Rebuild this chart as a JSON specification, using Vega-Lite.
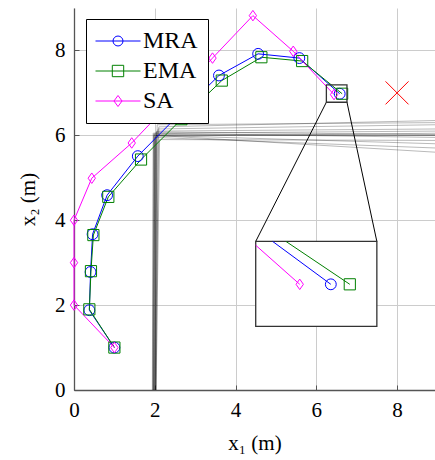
{
  "$schema": "https://vega.github.io/schema/vega-lite/v6.json",
  "width": 361,
  "height": 382,
  "autosize": {"type": "none"},
  "padding": {"left": 74, "top": 8, "right": 0, "bottom": 70},
  "background": "white",
  "config": {
    "view": {"stroke": null},
    "font": "Liberation Serif, Times New Roman, serif",
    "axis": {
      "labelFont": "Liberation Serif, Times New Roman, serif",
      "labelFontSize": 21,
      "labelColor": "black",
      "titleFont": "Liberation Serif, Times New Roman, serif",
      "titleFontSize": 21,
      "titleFontWeight": "normal",
      "titleColor": "black",
      "gridColor": "#cccccc",
      "gridWidth": 1,
      "domainColor": "#555555",
      "domainWidth": 1.3,
      "tickColor": "#555555",
      "tickWidth": 1,
      "tickSize": -5
    },
    "legend": {
      "labelFont": "Liberation Serif, Times New Roman, serif",
      "labelFontSize": 24,
      "labelColor": "black"
    }
  },
  "datasets": {
    "traj": [
      {"s": "MRA", "i": 0, "x": 1.0, "y": 1.0},
      {"s": "MRA", "i": 1, "x": 0.38, "y": 1.88},
      {"s": "MRA", "i": 2, "x": 0.41, "y": 2.78},
      {"s": "MRA", "i": 3, "x": 0.46, "y": 3.67},
      {"s": "MRA", "i": 4, "x": 0.82, "y": 4.59},
      {"s": "MRA", "i": 5, "x": 1.58, "y": 5.51},
      {"s": "MRA", "i": 6, "x": 2.58, "y": 6.47},
      {"s": "MRA", "i": 7, "x": 3.59, "y": 7.41},
      {"s": "MRA", "i": 8, "x": 4.56, "y": 7.92},
      {"s": "MRA", "i": 9, "x": 5.58, "y": 7.82},
      {"s": "MRA", "i": 10, "x": 6.58, "y": 6.98},
      {"s": "EMA", "i": 0, "x": 1.0, "y": 1.0},
      {"s": "EMA", "i": 1, "x": 0.38, "y": 1.9},
      {"s": "EMA", "i": 2, "x": 0.42, "y": 2.8},
      {"s": "EMA", "i": 3, "x": 0.48, "y": 3.65},
      {"s": "EMA", "i": 4, "x": 0.85, "y": 4.55},
      {"s": "EMA", "i": 5, "x": 1.66, "y": 5.43},
      {"s": "EMA", "i": 6, "x": 2.66, "y": 6.38},
      {"s": "EMA", "i": 7, "x": 3.66, "y": 7.29},
      {"s": "EMA", "i": 8, "x": 4.64, "y": 7.84},
      {"s": "EMA", "i": 9, "x": 5.65, "y": 7.75},
      {"s": "EMA", "i": 10, "x": 6.64, "y": 6.98},
      {"s": "SA", "i": 0, "x": 1.0, "y": 1.0},
      {"s": "SA", "i": 1, "x": 0.0, "y": 2.0},
      {"s": "SA", "i": 2, "x": 0.0, "y": 3.0},
      {"s": "SA", "i": 3, "x": 0.0, "y": 4.0},
      {"s": "SA", "i": 4, "x": 0.44, "y": 4.99},
      {"s": "SA", "i": 5, "x": 1.43, "y": 5.82},
      {"s": "SA", "i": 6, "x": 2.43, "y": 6.82},
      {"s": "SA", "i": 7, "x": 3.43, "y": 7.82},
      {"s": "SA", "i": 8, "x": 4.43, "y": 8.82},
      {"s": "SA", "i": 9, "x": 5.43, "y": 7.98},
      {"s": "SA", "i": 10, "x": 6.44, "y": 6.96}
    ],
    "zoomed": [
      {"s": "MRA", "i": 0, "x": 4.92, "y": 3.5, "end": false},
      {"s": "MRA", "i": 1, "x": 6.36, "y": 2.49, "end": true},
      {"s": "EMA", "i": 0, "x": 5.25, "y": 3.5, "end": false},
      {"s": "EMA", "i": 1, "x": 6.83, "y": 2.49, "end": true},
      {"s": "SA", "i": 0, "x": 4.5, "y": 3.41, "end": false},
      {"s": "SA", "i": 1, "x": 5.59, "y": 2.49, "end": true}
    ],
    "gray": [
      {"id": 1, "i": 0, "x": 1.95, "y": 0}, {"id": 1, "i": 1, "x": 1.97, "y": 6.02}, {"id": 1, "i": 2, "x": 9, "y": 6.0},
      {"id": 2, "i": 0, "x": 1.97, "y": 0}, {"id": 2, "i": 1, "x": 2.0, "y": 6.05}, {"id": 2, "i": 2, "x": 9, "y": 5.95},
      {"id": 3, "i": 0, "x": 2.0, "y": 0}, {"id": 3, "i": 1, "x": 2.02, "y": 5.98}, {"id": 3, "i": 2, "x": 9, "y": 6.05},
      {"id": 4, "i": 0, "x": 2.02, "y": 0}, {"id": 4, "i": 1, "x": 2.05, "y": 6.1}, {"id": 4, "i": 2, "x": 9, "y": 6.15},
      {"id": 5, "i": 0, "x": 1.96, "y": 0}, {"id": 5, "i": 1, "x": 1.98, "y": 6.0}, {"id": 5, "i": 2, "x": 9, "y": 5.8},
      {"id": 6, "i": 0, "x": 2.04, "y": 0}, {"id": 6, "i": 1, "x": 2.08, "y": 6.15}, {"id": 6, "i": 2, "x": 9, "y": 6.25},
      {"id": 7, "i": 0, "x": 1.98, "y": 0}, {"id": 7, "i": 1, "x": 2.0, "y": 5.95}, {"id": 7, "i": 2, "x": 9, "y": 5.7},
      {"id": 8, "i": 0, "x": 2.01, "y": 0}, {"id": 8, "i": 1, "x": 2.1, "y": 6.2}, {"id": 8, "i": 2, "x": 9, "y": 6.35},
      {"id": 9, "i": 0, "x": 1.99, "y": 0}, {"id": 9, "i": 1, "x": 2.03, "y": 6.0}, {"id": 9, "i": 2, "x": 9, "y": 6.0},
      {"id": 10, "i": 0, "x": 2.03, "y": 0}, {"id": 10, "i": 1, "x": 2.12, "y": 5.9}, {"id": 10, "i": 2, "x": 9, "y": 5.88},
      {"id": 11, "i": 0, "x": 1.94, "y": 0}, {"id": 11, "i": 1, "x": 1.96, "y": 6.05}, {"id": 11, "i": 2, "x": 9, "y": 6.1},
      {"id": 12, "i": 0, "x": 2.0, "y": 0}, {"id": 12, "i": 1, "x": 2.06, "y": 6.25}, {"id": 12, "i": 2, "x": 9, "y": 6.3},
      {"id": 13, "i": 0, "x": 1.97, "y": 0}, {"id": 13, "i": 1, "x": 2.0, "y": 6.0}, {"id": 13, "i": 2, "x": 9, "y": 5.6},
      {"id": 14, "i": 0, "x": 2.02, "y": 0}, {"id": 14, "i": 1, "x": 2.04, "y": 6.08}, {"id": 14, "i": 2, "x": 9, "y": 6.02}
    ],
    "boxes": [
      {"kind": "big", "x": 4.5, "x2": 7.5, "y": 1.5, "y2": 3.5},
      {"kind": "small", "x": 6.25, "x2": 6.76, "y": 6.78, "y2": 7.19}
    ],
    "conn": [
      {"id": 1, "i": 0, "x": 6.25, "y": 6.78}, {"id": 1, "i": 1, "x": 4.5, "y": 3.5},
      {"id": 2, "i": 0, "x": 6.76, "y": 6.78}, {"id": 2, "i": 1, "x": 7.5, "y": 3.5}
    ],
    "target": [{"x": 8, "y": 7}]
  },
  "layer": [
    {
      "data": {"name": "gray"},
      "mark": {"type": "line", "color": "black", "strokeWidth": 0.8, "opacity": 0.35, "clip": true},
      "encoding": {
        "x": {"field": "x", "type": "quantitative", "scale": {"domain": [0, 8.94], "nice": false, "zero": false},
          "axis": {"values": [0, 2, 4, 6, 8], "title": "x₁ (m)", "labelPadding": 14, "titlePadding": 12, "grid": true, "labelFlush": false}},
        "y": {"field": "y", "type": "quantitative", "scale": {"domain": [0, 9], "nice": false, "zero": false},
          "axis": {"values": [0, 2, 4, 6, 8], "title": "x₂ (m)", "labelPadding": 14, "titlePadding": 16, "grid": true, "labelFlush": false}},
        "detail": {"field": "id", "type": "nominal"},
        "order": {"field": "i", "type": "quantitative"}
      }
    },
    {
      "data": {"name": "traj"},
      "mark": {"type": "line", "strokeWidth": 1},
      "encoding": {
        "x": {"field": "x", "type": "quantitative"},
        "y": {"field": "y", "type": "quantitative"},
        "color": {"field": "s", "type": "nominal",
          "scale": {"domain": ["MRA", "EMA", "SA"], "range": ["#0000ff", "#008000", "#ff00ff"]},
          "legend": {
            "orient": "none", "legendX": 12, "legendY": 11, "title": null,
            "symbolSize": 144, "symbolStrokeWidth": 1,
            "symbolOffset": 10, "labelOffset": 13,
            "padding": 10, "rowPadding": 6,
            "strokeColor": "black", "fillColor": "white",
            "encode": {"symbols": {"update": {
              "shape": {"signal": "datum.value === 'MRA' ? 'M-3.75,0L3.75,0M-0.83,0A0.83,0.83,0,1,1,0.83,0A0.83,0.83,0,1,1,-0.83,0' : datum.value === 'EMA' ? 'M-3.75,0L3.75,0M-0.95,-0.95L0.95,-0.95L0.95,0.95L-0.95,0.95Z' : 'M-3.75,0L3.75,0M0,-0.92L0.67,0L0,0.92L-0.67,0Z'"},
              "size": {"value": 144},
              "fill": {"value": "transparent"},
              "strokeWidth": {"value": 1}
            }}}
          }},
        "order": {"field": "i", "type": "quantitative"}
      }
    },
    {
      "data": {"name": "traj"},
      "mark": {"type": "point", "filled": false, "strokeWidth": 1, "opacity": 1},
      "encoding": {
        "x": {"field": "x", "type": "quantitative"},
        "y": {"field": "y", "type": "quantitative"},
        "color": {"field": "s", "type": "nominal", "legend": null},
        "shape": {"field": "s", "type": "nominal", "legend": null,
          "scale": {"range": ["square", "circle", "M0,-1L0.7,0L0,1L-0.7,0Z"]}},
        "size": {"field": "s", "type": "nominal", "legend": null,
          "scale": {"range": [125, 110, 125]}}
      }
    },
    {
      "data": {"name": "conn"},
      "mark": {"type": "line", "color": "black", "strokeWidth": 1},
      "encoding": {
        "x": {"field": "x", "type": "quantitative"},
        "y": {"field": "y", "type": "quantitative"},
        "detail": {"field": "id", "type": "nominal"},
        "order": {"field": "i", "type": "quantitative"}
      }
    },
    {
      "data": {"name": "boxes"},
      "transform": [{"filter": "datum.kind === 'big'"}],
      "mark": {"type": "rect", "fill": "white", "stroke": "#333333", "strokeWidth": 1.3},
      "encoding": {
        "x": {"field": "x", "type": "quantitative"},
        "x2": {"field": "x2"},
        "y": {"field": "y", "type": "quantitative"},
        "y2": {"field": "y2"}
      }
    },
    {
      "data": {"name": "boxes"},
      "transform": [{"filter": "datum.kind === 'small'"}],
      "mark": {"type": "rect", "fill": null, "fillOpacity": 0, "stroke": "#333333", "strokeWidth": 1.3},
      "encoding": {
        "x": {"field": "x", "type": "quantitative"},
        "x2": {"field": "x2"},
        "y": {"field": "y", "type": "quantitative"},
        "y2": {"field": "y2"}
      }
    },
    {
      "data": {"name": "zoomed"},
      "mark": {"type": "line", "strokeWidth": 1},
      "encoding": {
        "x": {"field": "x", "type": "quantitative"},
        "y": {"field": "y", "type": "quantitative"},
        "color": {"field": "s", "type": "nominal", "legend": null},
        "order": {"field": "i", "type": "quantitative"}
      }
    },
    {
      "data": {"name": "zoomed"},
      "transform": [{"filter": "datum.end"}],
      "mark": {"type": "point", "filled": false, "strokeWidth": 1, "opacity": 1},
      "encoding": {
        "x": {"field": "x", "type": "quantitative"},
        "y": {"field": "y", "type": "quantitative"},
        "color": {"field": "s", "type": "nominal", "legend": null},
        "shape": {"field": "s", "type": "nominal", "legend": null},
        "size": {"field": "s", "type": "nominal", "legend": null}
      }
    },
    {
      "data": {"name": "target"},
      "mark": {"type": "point", "shape": "M-1,-1L1,1M-1,1L1,-1", "size": 529, "stroke": "#ff0000", "strokeWidth": 1, "filled": false, "opacity": 1},
      "encoding": {
        "x": {"field": "x", "type": "quantitative"},
        "y": {"field": "y", "type": "quantitative"}
      }
    }
  ]
}
